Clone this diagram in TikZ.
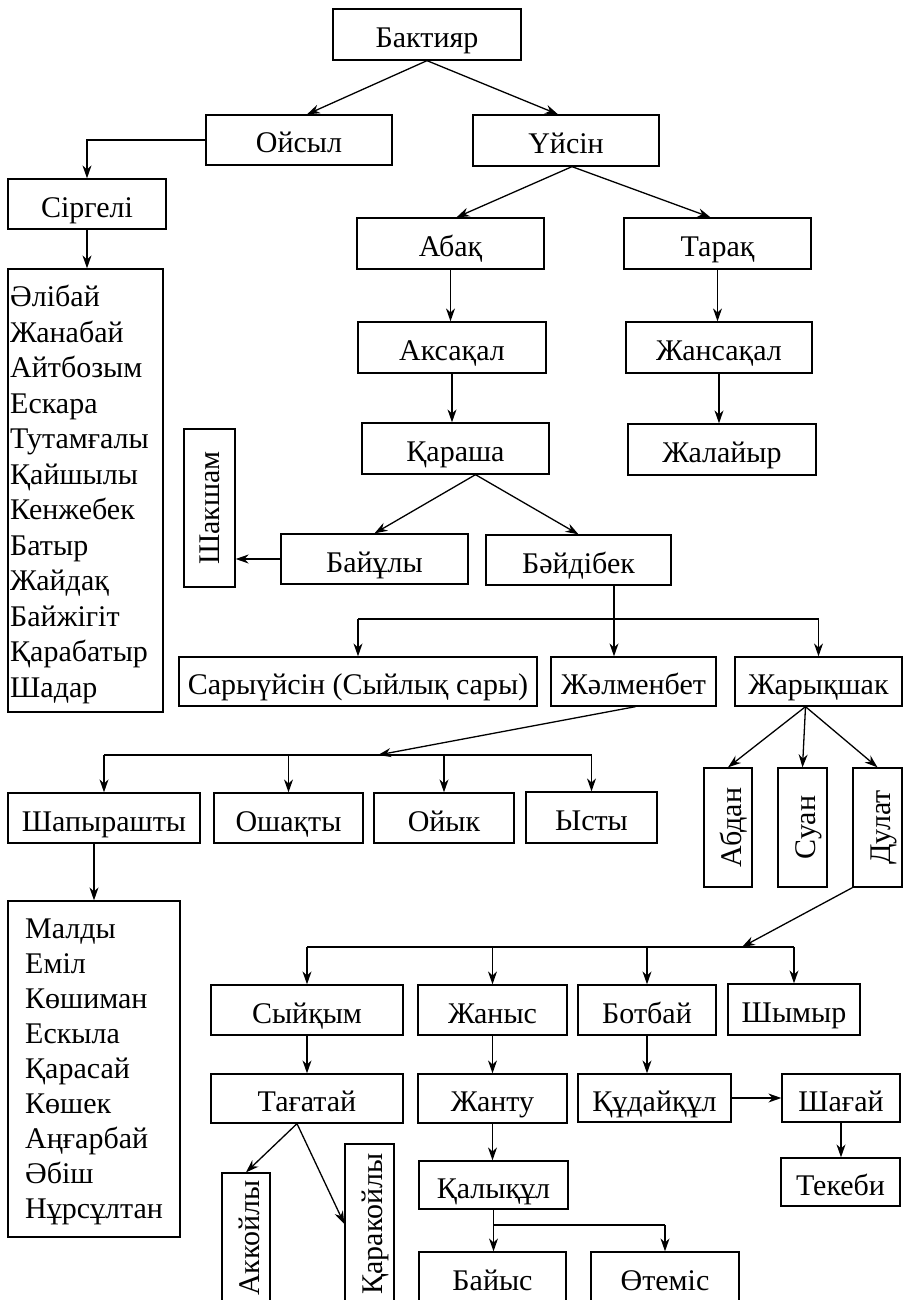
\documentclass[tikz,border=0pt]{standalone}
\usepackage{fontspec}
\setmainfont{Liberation Serif}
\usepackage{graphicx}
\usetikzlibrary{arrows.meta}
\newcommand{\vtext}[1]{\rotatebox{90}{\raisebox{0pt}[26pt][0pt]{#1}}}

\begin{document}
\begin{tikzpicture}[x=1pt, y=-1pt,
    box/.style={draw, line width=1.3pt, inner sep=0pt, font=\fontsize{30}{36}\selectfont, text height=26pt, text depth=0pt},
    vbox/.style={draw, line width=1.3pt, inner sep=0pt, font=\fontsize{30}{36}\selectfont},
    wh/.style 2 args={minimum width=#1pt, minimum height=#2pt},
    entry/.style={anchor=base west, inner sep=0pt, font=\fontsize{30}{36}\selectfont},
    arr/.style={-{Stealth[length=13pt,width=9pt]}, line width=1.3pt},
    link/.style={line width=1.3pt}]
    \useasboundingbox (0,0) rectangle (903,1300);
    \clip (0,0) rectangle (903,1300);

    % Бактияр, Ойсыл, Үйсін
    \node[box, wh={188}{51}] (bakt) at (427,34.5) {Бактияр};
    \node[box, wh={186}{50}] (ojsyl) at (299,140) {Ойсыл};
    \node[box, wh={186}{51}] (uysin) at (566,140.5) {Үйсін};
    \node[box, wh={158}{50}] (sirgeli) at (87,204) {Сіргелі};

    % Сіргелі ұрпағы
    \node[draw, line width=1.3pt, wh={155}{443}] (list1) at (85.5,490.5) {};
    \foreach \n [count=\i from 0] in {Әлібай, Жанабай, Айтбозым, Ескара, Тутамғалы, Қайшылы,
        Кенжебек, Батыр, Жайдақ, Байжігіт, Қарабатыр, Шадар}
        \node[entry] (sg\i) at (10,306.7+35.5*\i) {\n};

    % Абақ пен Тарақ тармағы
    \node[box, wh={187}{51}] (abaq) at (450.5,243.5) {Абақ};
    \node[box, wh={187}{51}] (taraq) at (717.5,243.5) {Тарақ};
    \node[box, wh={188}{51}] (aksaqal) at (452,347.5) {Аксақал};
    \node[box, wh={186}{51}] (zhansaqal) at (719,347.5) {Жансақал};
    \node[box, wh={187}{51}] (qarasha) at (455.5,448.5) {Қараша};
    \node[box, wh={188}{51}] (zhalaiyr) at (722,449.5) {Жалайыр};
    \node[vbox, wh={51}{158}] (shaksham) at (209.5,508) {\rotatebox{90}{Шакшам}};
    \node[box, wh={187}{50}] (baiuly) at (374.5,559) {Байұлы};
    \node[box, wh={185}{50}] (baidibek) at (578.5,560) {Бәйдібек};

    % Бәйдібек ұрпағы
    \node[box, wh={358}{49}] (sary) at (358,681.5) {Сарыүйсін (Сыйлық сары)};
    \node[box, wh={165}{49}] (zhalmenbet) at (633.5,681.5) {Жәлменбет};
    \node[box, wh={167}{49}] (zharyq) at (818.5,681.5) {Жарықшак};

    % Жәлменбет ұрпағы
    \node[box, wh={192}{50}] (shapyr) at (104,818) {Шапырашты};
    \node[box, wh={149}{50}] (oshaqty) at (288.5,818) {Ошақты};
    \node[box, wh={140}{50}] (oiyk) at (444,818) {Ойык};
    \node[box, wh={131}{51}] (ysty) at (591.5,817.5) {Ысты};
    \node[draw, line width=1.3pt, wh={172}{336}] (list2) at (94,1069) {};
    \foreach \n [count=\i from 0] in {Малды, Еміл, Көшиман, Ескыла, Қарасай, Көшек,
        Аңғарбай, Әбіш, Нұрсұлтан}
        \node[entry] (sh\i) at (25,938+35*\i) {\n};

    % Жарықшақ ұрпағы
    \node[vbox, wh={48}{119}] (abdan) at (728,827.5) {\vtext{Абдан}};
    \node[vbox, wh={49}{119}] (suan) at (802.5,827.5) {\vtext{Суан}};
    \node[vbox, wh={49}{119}] (dulat) at (877.5,827.5) {\vtext{Дулат}};

    % Дулат ұрпағы
    \node[box, wh={192}{50}] (syiqym) at (307,1010) {Сыйқым};
    \node[box, wh={149}{50}] (zhanys) at (492.5,1010) {Жаныс};
    \node[box, wh={138}{50}] (botbai) at (647,1010) {Ботбай};
    \node[box, wh={132}{51}] (shymyr) at (794,1009.5) {Шымыр};
    \node[box, wh={192}{49}] (tagatai) at (307,1098.5) {Тағатай};
    \node[box, wh={149}{49}] (zhantu) at (492.5,1098.5) {Жанту};
    \node[box, wh={153}{48}] (qudaiqul) at (654.5,1098) {Құдайқұл};
    \node[box, wh={118}{48}] (shagai) at (841,1098) {Шағай};
    \node[box, wh={119}{48}] (tekebi) at (840.5,1182) {Текеби};
    \node[box, wh={149}{48}] (qalyqul) at (493.5,1185) {Қалықұл};
    \node[box, wh={147}{50}] (baiys) at (492.5,1277) {Байыс};
    \node[box, wh={148}{50}] (otemis) at (665,1277) {Өтеміс};
    \node[vbox, wh={48}{130}] (aqqoily) at (246,1238) {\vtext{Аккойлы}};
    \node[vbox, wh={49}{160}] (qaraqoily) at (369.5,1224) {\vtext{Қаракойлы}};

    % Жоғарғы байланыстар
    \draw[arr] (bakt.south) -- ([xshift=8pt]ojsyl.north);
    \draw[arr] (bakt.south) -- ([xshift=-8pt]uysin.north);
    \draw[arr] (ojsyl.west) -| (sirgeli.north);
    \draw[arr] (sirgeli.south) -- (sirgeli.south |- list1.north);
    \draw[arr] ([xshift=6pt]uysin.south) -- ([xshift=6pt]abaq.north);
    \draw[arr] ([xshift=6pt]uysin.south) -- ([xshift=-7pt]taraq.north);
    \draw[arr] (abaq.south) -- (abaq.south |- aksaqal.north);
    \draw[arr] (aksaqal.south) -- (aksaqal.south |- qarasha.north);
    \draw[arr] (taraq.south) -- (taraq.south |- zhansaqal.north);
    \draw[arr] (zhansaqal.south) -- (zhansaqal.south |- zhalaiyr.north);
    \draw[arr] ([xshift=20pt]qarasha.south) -- (baiuly.north);
    \draw[arr] ([xshift=20pt]qarasha.south) -- (baidibek.north);
    \draw[arr] (baiuly.west) -- (baiuly.west -| shaksham.east);

    % Бәйдібектен тарайтын сызық
    \coordinate (r1) at (0,619);
    \draw[link] (sary.north |- r1) -- (zharyq.north |- r1);
    \draw[arr] (sary.north |- r1) -- (sary.north);
    \draw[arr] (zharyq.north |- r1) -- (zharyq.north);
    \draw[arr] ([xshift=35.5pt]baidibek.south) -- ([xshift=35.5pt]baidibek.south |- zhalmenbet.north);

    % Жәлменбеттен тарайтын сызық
    \coordinate (r2) at (378,755);
    \draw[arr] ([xshift=2pt]zhalmenbet.south) -- (r2);
    \draw[link] (shapyr.north |- r2) -- (ysty.north |- r2);
    \foreach \t in {shapyr, oshaqty, oiyk, ysty}
        \draw[arr] (\t.north |- r2) -- (\t.north);
    \draw[arr] (list2.north |- shapyr.south) -- (list2.north);

    % Жарықшақ тармағы
    \foreach \t in {abdan, suan, dulat}
        \draw[arr] ([xshift=-13pt]zharyq.south) -- (\t.north);

    % Дулаттан тарайтын сызық
    \coordinate (r3) at (742,947);
    \draw[arr] (dulat.south west) -- (r3);
    \draw[link] (syiqym.north |- r3) -- (shymyr.north |- r3);
    \foreach \t in {syiqym, zhanys, botbai, shymyr}
        \draw[arr] (\t.north |- r3) -- (\t.north);
    \draw[arr] (syiqym.south) -- (tagatai.north);
    \draw[arr] (zhanys.south) -- (zhantu.north);
    \draw[arr] (botbai.south) -- (botbai.south |- qudaiqul.north);
    \draw[arr] (qudaiqul.east) -- (shagai.west);
    \draw[arr] (shagai.south) -- (shagai.south |- tekebi.north);
    \draw[arr] (zhantu.south) -- (zhantu.south |- qalyqul.north);

    % Қалықұл ұрпағы
    \coordinate (r4) at (0,1225);
    \draw[link] (qalyqul.south) -- (qalyqul.south |- r4) -- (otemis.north |- r4);
    \draw[arr] (qalyqul.south |- r4) -- (qalyqul.south |- baiys.north);
    \draw[arr] (otemis.north |- r4) -- (otemis.north);

    % Тағатай ұрпағы
    \draw[arr] ([xshift=-10pt]tagatai.south) -- (aqqoily.north);
    \draw[arr] ([xshift=-10pt]tagatai.south) -- (qaraqoily.west);
\end{tikzpicture}
\end{document}
